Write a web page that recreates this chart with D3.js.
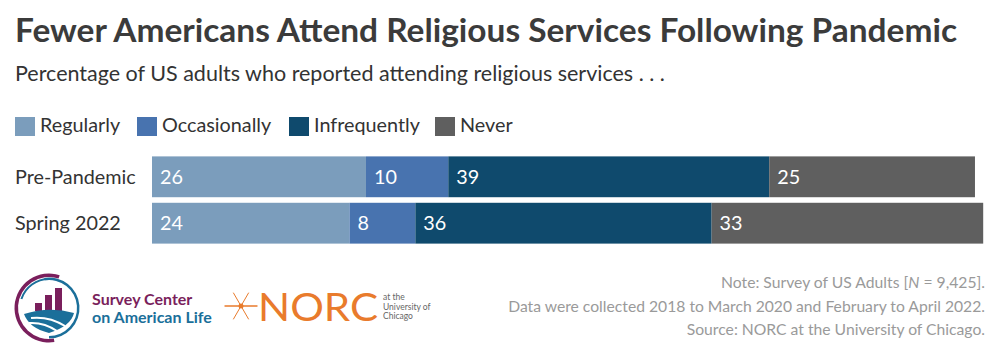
<!DOCTYPE html>
<html><head><meta charset="utf-8">
<script src="https://cdn.jsdelivr.net/npm/d3@7/dist/d3.min.js"></script>
<style>
html,body{margin:0;padding:0;background:#fff;}
svg{display:block;font-family:Lato,"Open Sans",sans-serif;}
</style></head>
<body><svg id="chart" width="1000" height="364"></svg>
<script>
const categories = ["Pre-Pandemic", "Spring 2022"];
const seriesNames = ["Regularly", "Occasionally", "Infrequently", "Never"];
const regularly = [26, 24];
const occasionally = [10, 8];
const infrequently = [39, 36];
const never = [25, 33];
const seriesColors = ["#7b9dbc", "#4873af", "#0f4a6d", "#5f5f5f"];
const notes = ["Note: Survey of US Adults [N = 9,425].",
  "Data were collected 2018 to March 2020 and February to April 2022.",
  "Source: NORC at the University of Chicago."];

const svg = d3.select("#chart");
const seriesVals = [regularly, occasionally, infrequently, never];
const rows = categories.map((c, i) => {
  let acc = 0;
  return {cat: c, segs: seriesVals.map((s, k) => { const d = {k, v: s[i], x0: acc}; acc += s[i]; return d; })};
});

// title
svg.append("text").attr("x", 15).attr("y", 42).attr("font-size", 32).attr("font-weight", 700)
  .attr("fill", "#3b3b3b").attr("textLength", 942).attr("lengthAdjust", "spacingAndGlyphs")
  .text("Fewer Americans Attend Religious Services Following Pandemic");
svg.append("text").attr("x", 15).attr("y", 81).attr("font-size", 21.5)
  .attr("fill", "#333").text("Percentage of US adults who reported attending religious services . . .");

// legend
const legX = [15, 137, 289, 435];
const leg = svg.append("g");
seriesNames.forEach((n, i) => {
  leg.append("rect").attr("x", legX[i]).attr("y", 117).attr("width", 20).attr("height", 19).attr("fill", seriesColors[i]);
  leg.append("text").attr("x", legX[i] + 25).attr("y", 131.5).attr("font-size", 19.8).attr("fill", "#333").text(n);
});

// scales
const x = d3.scaleLinear().domain([0, 101]).range([152, 983.2]);
const y = d3.scaleBand().domain(categories).range([155, 245]).paddingInner(0.12).paddingOuter(0.03);

const g = svg.append("g");
rows.forEach(r => {
  const rg = g.append("g");
  rg.selectAll("rect").data(r.segs).join("rect")
    .attr("x", d => x(d.x0)).attr("width", d => x(d.x0 + d.v) - x(d.x0))
    .attr("y", y(r.cat)).attr("height", y.bandwidth())
    .attr("fill", d => seriesColors[d.k]);
  rg.selectAll("text.v").data(r.segs).join("text").attr("class", "v")
    .attr("x", d => x(d.x0) + 8).attr("y", y(r.cat) + y.bandwidth() / 2 + 7)
    .attr("font-size", 19.8).attr("fill", "#fff").text(d => d.v);
  svg.append("text").attr("x", 15).attr("y", y(r.cat) + y.bandwidth() / 2 + 7)
    .attr("font-size", 19.8).attr("fill", "#333").text(r.cat);
});

// notes
notes.forEach((t, i) => {
  const tx = svg.append("text").attr("x", 985).attr("y", 288 + i * 23.5).attr("text-anchor", "end")
    .attr("font-size", 15.7).attr("fill", "#9a9a9a");
  if (i === 0) {
    tx.append("tspan").text("Note: Survey of US Adults [");
    tx.append("tspan").attr("font-style", "italic").text("N");
    tx.append("tspan").text(" = 9,425].");
  } else tx.text(t);
});

// Survey Center logo
const lg = svg.append("g").attr("transform", "translate(49,308)");
const arc = d3.arc();
lg.append("path").attr("d", arc({innerRadius: 31, outerRadius: 34.5, startAngle: Math.PI * 0.95, endAngle: Math.PI * 2.1})).attr("fill", "#7a1f5c");
lg.append("path").attr("d", arc({innerRadius: 28, outerRadius: 30.5, startAngle: -Math.PI * 0.05, endAngle: Math.PI * 1.0})).attr("fill", "#1b6f9a");
lg.append("path").attr("d", arc({innerRadius: 28, outerRadius: 30, startAngle: Math.PI * 1.6, endAngle: Math.PI * 2.0})).attr("fill", "#1b6f9a");
[[-14, -5, 7, 8], [-4, -13, 7, 16], [6, -20, 7, 23]].forEach(b =>
  lg.append("rect").attr("x", b[0]).attr("y", b[1]).attr("width", b[2]).attr("height", b[3]).attr("fill", "#7a1f5c"));
lg.append("path").attr("d", "M-25,6 Q0,-2 25,5 Q22,18 0,25 Q-20,20 -25,6 Z").attr("fill", "#1b6f9a");
lg.append("path").attr("d", "M-18,10 Q0,8 16,18").attr("stroke", "#fff").attr("stroke-width", 2).attr("fill", "none");
lg.append("path").attr("d", "M-20,15 Q-5,14 8,23").attr("stroke", "#fff").attr("stroke-width", 2).attr("fill", "none");
svg.append("text").attr("x", 92).attr("y", 305).attr("font-size", 16).attr("font-weight", 700).attr("fill", "#7a1f5c").text("Survey Center");
svg.append("text").attr("x", 92).attr("y", 323).attr("font-size", 16).attr("font-weight", 700).attr("fill", "#1b6f9a").text("on American Life");

// NORC logo
const ng = svg.append("g").attr("transform", "translate(241,306)").attr("stroke", "#e97b2c").attr("stroke-linecap", "round");
[[0, 1.4, 16, 1.4], [60, 1, 15, 1], [120, 1, 15, 1]].forEach(a => {
  const r = a[0] * Math.PI / 180;
  ng.append("line").attr("x1", -a[2] * Math.cos(r)).attr("y1", -a[2] * Math.sin(r))
    .attr("x2", a[2] * Math.cos(r)).attr("y2", a[2] * Math.sin(r)).attr("stroke-width", a[1]);
});
ng.append("circle").attr("r", 2.5).attr("fill", "#e97b2c").attr("stroke", "none");
svg.append("text").attr("x", 258).attr("y", 321).attr("font-size", 38).attr("fill", "#e97b2c")
  .attr("textLength", 120).attr("lengthAdjust", "spacingAndGlyphs").text("NORC");
["at the", "University of", "Chicago"].forEach((t, i) =>
  svg.append("text").attr("x", 383).attr("y", 300 + i * 9.5).attr("font-size", 8.5).attr("fill", "#666").text(t));
</script></body></html>
